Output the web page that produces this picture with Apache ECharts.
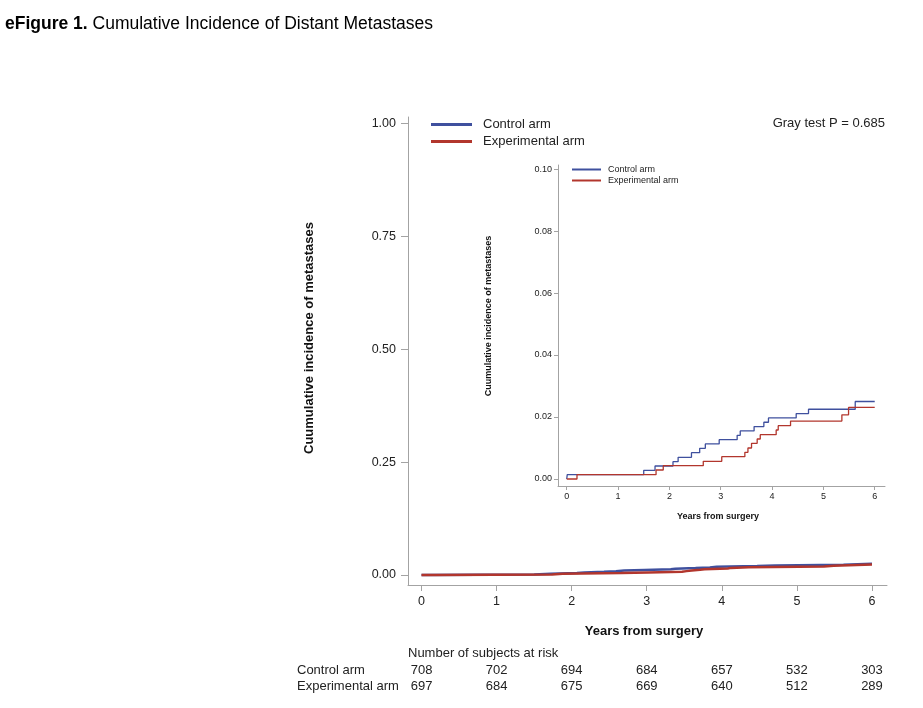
<!DOCTYPE html>
<html><head><meta charset="utf-8">
<script src="https://cdn.jsdelivr.net/npm/echarts@6/dist/echarts.min.js"></script>
<style>html,body{margin:0;padding:0;background:#fff}#c{width:923px;height:708px}</style>
</head><body><div id="c"></div>
<script>
// ---- data ----
const years = [0, 1, 2, 3, 4, 5, 6];
const controlTimes = [0, 0.01, 1.50, 1.72, 2.07, 2.17, 2.43, 2.59, 2.70, 2.97, 3.32, 3.38, 3.65, 3.84, 3.93, 4.47, 4.71, 5.62, 6.00];
const controlCIF   = [0, 0.0014, 0.0028, 0.0042, 0.0056, 0.0070, 0.0085, 0.0099, 0.0113, 0.0127, 0.0141, 0.0155, 0.0169, 0.0183, 0.0197, 0.0211, 0.0225, 0.0250, 0.0250];
const expTimes = [0, 0.20, 1.74, 1.88, 2.66, 3.02, 3.47, 3.53, 3.60, 3.71, 3.77, 4.08, 4.12, 4.36, 5.36, 5.49, 6.00];
const expCIF   = [0, 0.0014, 0.0029, 0.0043, 0.0057, 0.0072, 0.0086, 0.0100, 0.0115, 0.0129, 0.0143, 0.0158, 0.0172, 0.0187, 0.0207, 0.0231, 0.0231];
const armNames = ['Control arm', 'Experimental arm'];
const atRiskControl = [708, 702, 694, 684, 657, 532, 303];
const atRiskExp = [697, 684, 675, 669, 640, 512, 289];
const mainYTicks = [0, 0.25, 0.50, 0.75, 1.00];
const insetYTicks = [0, 0.02, 0.04, 0.06, 0.08, 0.10];
const grayTest = 'Gray test P = 0.685';
const titleBold = 'eFigure 1.';
const titleRest = ' Cumulative Incidence of Distant Metastases';
const yTitle = 'Cuumulative incidence of metastases';
const xTitle = 'Years from surgery';
const atRiskTitle = 'Number of subjects at risk';

// ---- style ----
const FONT = '"Liberation Sans", Arial, Helvetica, sans-serif';
const BLUE = '#3f509e';
const RED = '#b2362d';
const AXIS = '#a3a3a3';
const TXT = '#222';

const pairs = (t, v) => t.map((x, i) => [x, v[i]]);

function axisCommon(fs, tickLen, margin, ticks, fmt) {
  return {
    axisLine: { show: true, onZero: false, lineStyle: { color: AXIS, width: 1 } },
    axisTick: { show: true, length: tickLen, customValues: ticks, lineStyle: { color: AXIS, width: 1 } },
    axisLabel: { customValues: ticks, fontSize: fs, color: TXT, fontFamily: FONT, margin: margin, formatter: fmt },
    splitLine: { show: false }
  };
}

const chart = echarts.init(document.getElementById('c'), null, { renderer: 'canvas' });

const option = {
  animation: false,
  backgroundColor: '#fff',
  grid: [
    { left: 408, top: 117, width: 479, height: 468, containLabel: false, outerBoundsMode: 'none' },
    { left: 558, top: 165, width: 327, height: 321, containLabel: false, outerBoundsMode: 'none' }
  ],
  xAxis: [
    Object.assign({ type: 'value', gridIndex: 0, min: -0.18, max: 6.2 },
      axisCommon(12.5, 6, 10, years, v => String(v))),
    Object.assign({ type: 'value', gridIndex: 1, min: -0.17, max: 6.2 },
      axisCommon(9, 4, 6, years, v => String(v)))
  ],
  yAxis: [
    Object.assign({ type: 'value', gridIndex: 0, min: -0.0221, max: 1.014 },
      axisCommon(12.5, 7, 12, mainYTicks, v => v.toFixed(2))),
    Object.assign({ type: 'value', gridIndex: 1, min: -0.00226, max: 0.1013 },
      axisCommon(9, 4, 6, insetYTicks, v => v.toFixed(2)))
  ],
  legend: [
    { data: armNames, orient: 'vertical', left: 431, top: 118, icon: 'rect', itemWidth: 41, itemHeight: 3,
      itemGap: 4, padding: 0, selectedMode: false,
      textStyle: { fontSize: 13, color: TXT, fontFamily: FONT, padding: [0, 0, 0, 6] } },
    { data: armNames, orient: 'vertical', left: 572, top: 165, icon: 'rect', itemWidth: 29, itemHeight: 2,
      itemGap: 2, padding: 0, selectedMode: false,
      textStyle: { fontSize: 9, color: TXT, fontFamily: FONT, padding: [0, 0, 0, 2] } }
  ],
  series: [
    { name: armNames[0], type: 'line', step: 'end', xAxisIndex: 0, yAxisIndex: 0, symbol: 'none',
      data: pairs(controlTimes, controlCIF), lineStyle: { color: BLUE, width: 2.5 }, itemStyle: { color: BLUE } },
    { name: armNames[1], type: 'line', step: 'end', xAxisIndex: 0, yAxisIndex: 0, symbol: 'none',
      data: pairs(expTimes, expCIF), lineStyle: { color: RED, width: 2.5 }, itemStyle: { color: RED } },
    { name: armNames[0], type: 'line', step: 'end', xAxisIndex: 1, yAxisIndex: 1, symbol: 'none',
      data: pairs(controlTimes, controlCIF), lineStyle: { color: BLUE, width: 1.3 }, itemStyle: { color: BLUE } },
    { name: armNames[1], type: 'line', step: 'end', xAxisIndex: 1, yAxisIndex: 1, symbol: 'none',
      data: pairs(expTimes, expCIF), lineStyle: { color: RED, width: 1.3 }, itemStyle: { color: RED } }
  ]
};
chart.setOption(option);

// text elements
const txt = (x, y, text, o) => Object.assign({
  type: 'text', x: x, y: y, silent: true,
  style: Object.assign({ text: text, fontFamily: FONT, fontSize: 13, fill: TXT, align: 'left', verticalAlign: 'middle' }, o || {})
});
const g = [];
g.push({ type: 'text', x: 5, y: 24, silent: true,
  style: { text: '{b|' + titleBold + '}' + titleRest, fontFamily: FONT, fontSize: 17.5, fill: '#000', verticalAlign: 'middle',
    rich: { b: { fontWeight: 'bold', fontSize: 17.5, fontFamily: FONT, fill: '#000' } } } });
g.push(txt(885, 123, grayTest, { align: 'right' }));
const yt = txt(309, 338, yTitle, { align: 'center', fontWeight: 'bold', fill: '#111' }); yt.rotation = Math.PI / 2; g.push(yt);
g.push(txt(644, 631, xTitle, { align: 'center', fontWeight: 'bold', fill: '#111' }));
const yt2 = txt(489, 316, yTitle, { align: 'center', fontWeight: 'bold', fontSize: 9, fill: '#111' }); yt2.rotation = Math.PI / 2; g.push(yt2);
g.push(txt(718, 517, xTitle, { align: 'center', fontWeight: 'bold', fontSize: 9, fill: '#111' }));
g.push(txt(408, 653, atRiskTitle));
g.push(txt(297, 670, armNames[0]));
g.push(txt(297, 686, armNames[1]));
years.forEach((yr, i) => {
  const px = chart.convertToPixel({ xAxisIndex: 0 }, yr);
  g.push(txt(px, 670, String(atRiskControl[i]), { align: 'center' }));
  g.push(txt(px, 686, String(atRiskExp[i]), { align: 'center' }));
});
chart.setOption({ graphic: g });
</script>
</body></html>
